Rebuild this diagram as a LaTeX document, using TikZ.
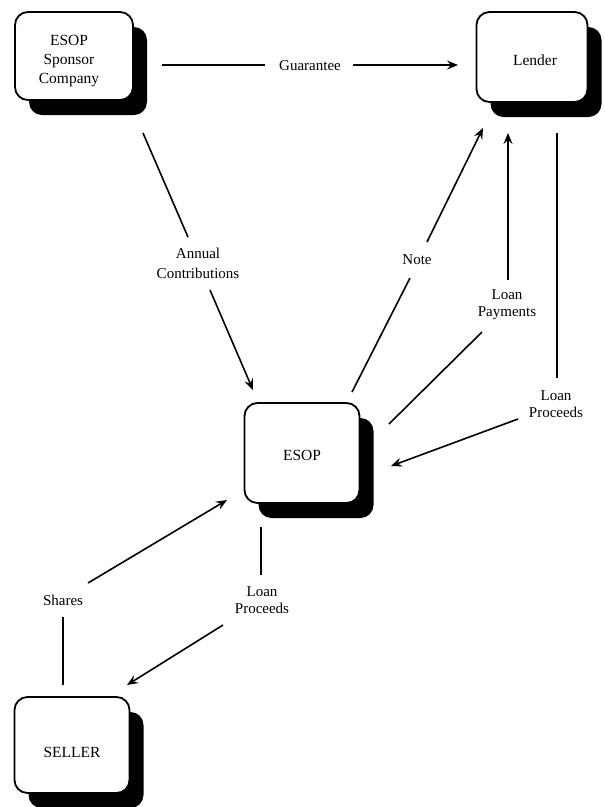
\documentclass[tikz,border=0pt]{standalone}
\usepackage{fontspec}
\setmainfont{Liberation Serif}
\usetikzlibrary{arrows.meta,shadows}
\begin{document}
\begin{tikzpicture}[x=1pt,y=-1pt,
  box/.style={draw, line width=1.8pt, fill=white, rounded corners=13pt,
    drop shadow={shadow xshift=14pt, shadow yshift=-15pt, opacity=1, fill=black},
    align=center, font=\fontsize{15.5}{18}\selectfont, inner sep=0pt},
  lbl/.style={align=center, inner sep=0pt, font=\fontsize{15}{17}\selectfont},
  conn/.style={line width=1.6pt},
  arr/.style={conn, -{Stealth[length=11pt,width=9pt,inset=4pt]}}]
\useasboundingbox (0,0) rectangle (605,807);
% boxes
\node[box, minimum width=118pt, minimum height=88pt] (sponsor) at (74,56) {};
\node[box, minimum width=111pt, minimum height=90pt] (lender) at (532,57) {};
\node[box, minimum width=115pt, minimum height=100pt] (esop) at (302,453) {};
\node[box, minimum width=115pt, minimum height=96pt] (seller) at (72,745) {};
\node[lbl, font=\fontsize{15.5}{19}\selectfont] (tsponsor) at (69,61) {ESOP\\Sponsor\\Company};
\node[lbl, font=\fontsize{15.5}{19}\selectfont] (tlender) at (535,60) {Lender};
\node[lbl, font=\fontsize{15.5}{19}\selectfont] (tesop) at (302,455) {ESOP};
\node[lbl, font=\fontsize{15.5}{19}\selectfont] (tseller) at (72,752) {SELLER};
% labels
\node[lbl] (guar) at (310,66) {Guarantee};
\node[lbl, font=\fontsize{15}{20}\selectfont] (annual) at (198,263) {Annual\\Contributions};
\node[lbl] (note) at (417,260) {Note};
\node[lbl] (lpay) at (507,305) {Loan\\Payments};
\node[lbl] (lproc1) at (556,404) {Loan\\Proceeds};
\node[lbl] (lproc2) at (262,600) {Loan\\Proceeds};
\node[lbl] (shares) at (63,600) {Shares};
% connector end points
\coordinate (g1) at (162,65);  \coordinate (g2) at (265,65);
\coordinate (g3) at (353,65);  \coordinate (g4) at (458,65);
\coordinate (a1) at (143,133); \coordinate (a2) at (188,237);
\coordinate (a3) at (210,290); \coordinate (a4) at (253,390);
\coordinate (n1) at (352,392); \coordinate (n2) at (410,278);
\coordinate (n3) at (427,242); \coordinate (n4) at (483,128);
\coordinate (p1) at (508,280); \coordinate (p2) at (508,133);
\coordinate (p3) at (482,332); \coordinate (p4) at (389,424);
\coordinate (r1) at (557,133); \coordinate (r2) at (557,378);
\coordinate (r3) at (518,419); \coordinate (r4) at (391,466);
\coordinate (q1) at (261,527); \coordinate (q2) at (261,575);
\coordinate (q3) at (223,625); \coordinate (q4) at (127,685);
\coordinate (s1) at (63,617);  \coordinate (s2) at (63,685);
\coordinate (s3) at (88,583);  \coordinate (s4) at (227,500);
% connectors
\draw[conn] (g1) -- (g2);
\draw[arr] (g3) -- (g4);
\draw[conn] (a1) -- (a2);
\draw[arr] (a3) -- (a4);
\draw[conn] (n1) -- (n2);
\draw[arr] (n3) -- (n4);
\draw[arr] (p1) -- (p2);
\draw[conn] (p3) -- (p4);
\draw[conn] (r1) -- (r2);
\draw[arr] (r3) -- (r4);
\draw[conn] (q1) -- (q2);
\draw[arr] (q3) -- (q4);
\draw[conn] (s1) -- (s2);
\draw[arr] (s3) -- (s4);
\end{tikzpicture}
\end{document}
